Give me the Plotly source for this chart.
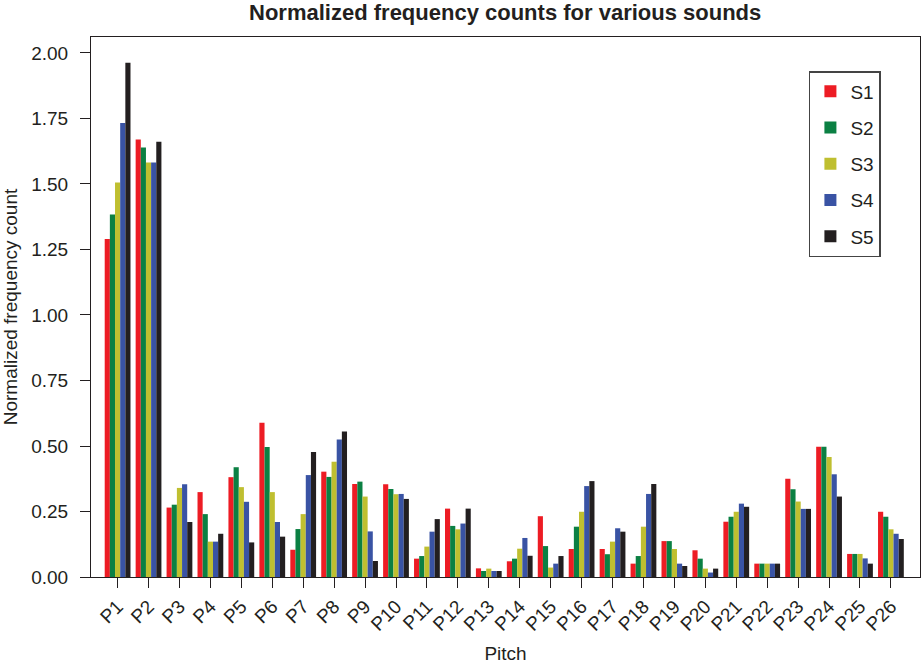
import plotly.graph_objects as go

categories = [f"P{i}" for i in range(1, 27)]
series_names = ["S1", "S2", "S3", "S4", "S5"]

s1 = [1.290, 1.670, 0.265, 0.324, 0.381, 0.589, 0.104, 0.402, 0.355, 0.354, 0.070, 0.261, 0.033,
      0.060, 0.232, 0.107, 0.107, 0.051, 0.137, 0.102, 0.211, 0.051, 0.375, 0.497, 0.088, 0.249]
s2 = [1.384, 1.639, 0.276, 0.240, 0.419, 0.496, 0.183, 0.382, 0.364, 0.336, 0.080, 0.195, 0.023,
      0.070, 0.118, 0.192, 0.087, 0.080, 0.137, 0.070, 0.230, 0.051, 0.335, 0.497, 0.088, 0.230]
s3 = [1.506, 1.582, 0.340, 0.135, 0.343, 0.324, 0.240, 0.440, 0.307, 0.316, 0.116, 0.182, 0.032,
      0.108, 0.036, 0.249, 0.135, 0.192, 0.107, 0.032, 0.249, 0.051, 0.288, 0.458, 0.088, 0.182]
s4 = [1.733, 1.582, 0.354, 0.135, 0.287, 0.210, 0.389, 0.525, 0.174, 0.317, 0.173, 0.204, 0.023,
      0.149, 0.051, 0.347, 0.186, 0.317, 0.051, 0.017, 0.280, 0.051, 0.260, 0.392, 0.071, 0.165]
s5 = [1.963, 1.661, 0.210, 0.165, 0.132, 0.154, 0.477, 0.555, 0.061, 0.298, 0.221, 0.261, 0.023,
      0.081, 0.080, 0.366, 0.173, 0.355, 0.042, 0.032, 0.268, 0.051, 0.260, 0.307, 0.051, 0.145]

series_values = [s1, s2, s3, s4, s5]
colors = ["#ED1C24", "#0B8043", "#BFBF30", "#3953A4", "#231F20"]

y_tickvals = [0, 0.25, 0.5, 0.75, 1.0, 1.25, 1.5, 1.75, 2.0]
y_ticktext = [f"{v:.2f}" for v in y_tickvals]

FONT = "Liberation Sans, Arial, Helvetica, sans-serif"

fig = go.Figure()
for name, vals, col in zip(series_names, series_values, colors):
    fig.add_trace(go.Bar(
        x=categories, y=vals, name=name, marker=dict(color=col, line=dict(width=0)),
        legendgroup=name,
    ))

fig.update_layout(
    width=921, height=666,
    paper_bgcolor="white", plot_bgcolor="white",
    margin=dict(l=91, r=1, t=37, b=89),
    barmode="group", bargap=1/6, bargroupgap=0,
    font=dict(family=FONT, size=19, color="#231F20"),
    title=dict(text="<b>Normalized frequency counts for various sounds</b>",
               x=0.5485, xanchor="center", y=0.981, yanchor="middle",
               font=dict(size=22, family=FONT, color="#231F20")),
    legend=dict(x=0.866, y=0.937, xanchor="left", yanchor="top",
                bordercolor="#444444", borderwidth=1.5, bgcolor="white",
                font=dict(size=19, family=FONT), tracegroupgap=8.5,
                itemwidth=30),
    showlegend=True,
)
fig.update_xaxes(
    range=[-0.86, 25.94], showline=True, mirror=True, linecolor="#231F20", linewidth=1,
    ticks="outside", ticklen=10, tickcolor="#231F20", tickangle=-45,
    tickfont=dict(size=19), showgrid=False, zeroline=False,
    title=dict(text="Pitch", font=dict(size=19), standoff=12),
)
fig.update_yaxes(
    range=[0, 2.061], showline=True, mirror=True, linecolor="#231F20", linewidth=1,
    ticks="outside", ticklen=10, tickcolor="#231F20",
    tickvals=y_tickvals, ticktext=y_ticktext, tickfont=dict(size=19),
    ticklabelstandoff=8, showgrid=False, zeroline=False,
    title=dict(text="Normalized frequency count", font=dict(size=19), standoff=10),
)

fig.write_html("out.html")
